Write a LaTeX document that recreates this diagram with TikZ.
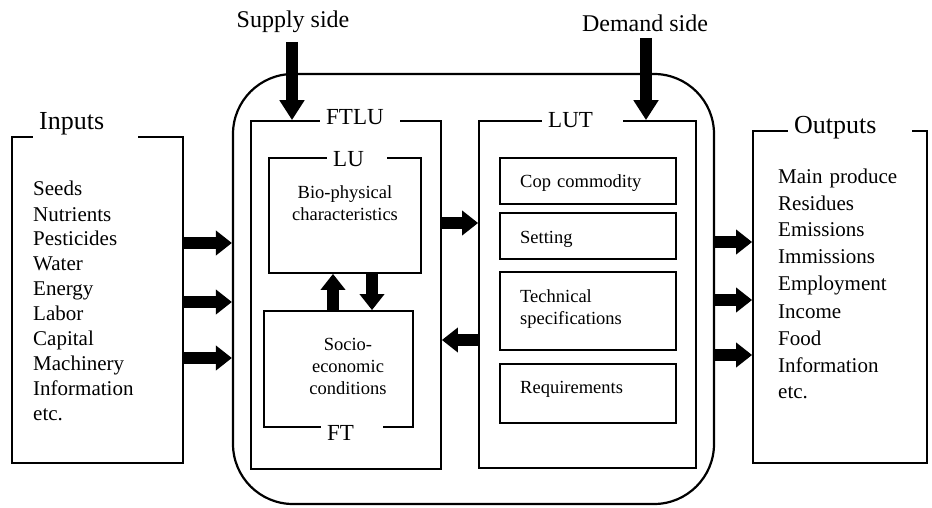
\documentclass[tikz,border=0pt]{standalone}
\usepackage{fontspec}
\setmainfont{Liberation Serif}
\usetikzlibrary{arrows.meta}

\tikzset{
    box/.style={draw, line width=1.8pt, inner sep=0pt},
    subbox/.style={draw, line width=1.6pt, minimum width=176pt, inner sep=0pt},
    title/.style={fill=white, inner xsep=6pt, inner ysep=2pt, align=left, anchor=base west},
    fat/.style={line width=12pt, -{Triangle[width=24pt,length=16pt]}},
    listtext/.style={align=left, anchor=base west, inner sep=0pt, text width=150pt},
    boxtext/.style={align=center, anchor=base, inner sep=0pt, text width=145pt,
        font=\fontsize{18.5}{22}\selectfont},
    subtext/.style={align=left, anchor=base west, inner sep=0pt, text width=150pt,
        font=\fontsize{18.5}{22}\selectfont},
}

\begin{document}
\begin{tikzpicture}[x=1pt, y=-1pt]
    \useasboundingbox (0,0) rectangle (932,508);

    % the whole system
    \node[box, line width=2.2pt, rounded corners=60pt, minimum width=481pt, minimum height=430pt] (outer) at (473.5,289) {};

    % inputs and outputs
    \node[box, minimum width=171pt, minimum height=326pt] (inputs) at (97.5,300) {};
    \node[title, text width=93pt, font=\fontsize{26}{30}\selectfont] (intitle) at (33,130) {Inputs};
    \node[listtext, font=\fontsize{21}{25}\selectfont] (inlist) at (33,196) {Seeds\\Nutrients\\Pesticides\\Water\\Energy\\Labor\\Capital\\Machinery\\Information\\etc.};

    \node[box, minimum width=174pt, minimum height=332pt] (outputs) at (840,297) {};
    \node[title, text width=112pt, font=\fontsize{26}{30}\selectfont] (outtitle) at (788,134) {Outputs};
    \node[listtext, font=\fontsize{21}{27}\selectfont] (outlist) at (778,183) {Main produce\\Residues\\Emissions\\Immissions\\Employment\\Income\\Food\\Information\\etc.};

    % FTLU side
    \node[box, minimum width=190pt, minimum height=348pt] (ftlu) at (346,295) {};
    \node[title, text width=68pt, font=\fontsize{23}{26}\selectfont] (ftlutitle) at (320,125) {FTLU};
    \node[box, minimum width=152pt, minimum height=115pt] (lu) at (345,215.5) {};
    \node[title, text width=48pt, font=\fontsize{23}{26}\selectfont] (lutitle) at (327,167) {LU};
    \node[boxtext] (lutext) at (345,198) {Bio-physical\\characteristics};
    \node[box, minimum width=149pt, minimum height=116pt] (ft) at (338.5,369) {};
    \node[title, text width=50pt, font=\fontsize{23}{26}\selectfont] (fttitle) at (321,440) {FT};
    \node[boxtext] (fttext) at (348,350) {Socio-\\economic\\conditions};

    % LUT side
    \node[box, minimum width=217pt, minimum height=347pt] (lut) at (587.5,294.5) {};
    \node[title, text width=69pt, font=\fontsize{23}{26}\selectfont] (luttitle) at (542,128) {LUT};
    \node[subbox, minimum height=46pt] (cop) at (588,181) {};
    \node[subtext] (coptext) at (520,188) {Cop commodity};
    \node[subbox, minimum height=46pt] (setting) at (588,236) {};
    \node[subtext] (settext) at (520,243) {Setting};
    \node[subbox, minimum height=78pt] (tech) at (588,311) {};
    \node[subtext] (techtext) at (520,302) {Technical\\specifications};
    \node[subbox, minimum height=59pt] (req) at (588,393.5) {};
    \node[subtext] (reqtext) at (520,393) {Requirements};

    % sides
    \node[anchor=base, inner sep=0pt, font=\fontsize{24}{28}\selectfont] (supply) at (293,28) {Supply side};
    \node[anchor=base, inner sep=0pt, font=\fontsize{24}{28}\selectfont] (demand) at (645,32) {Demand side};
    \coordinate (suptop) at (292,42);
    \coordinate (demtop) at (646,38);
    \draw[fat, -{Triangle[width=24pt,length=20pt]}] (suptop) -- (suptop |- ftlu.north);
    \draw[fat, -{Triangle[width=24pt,length=20pt]}] (demtop) -- (demtop |- lut.north);

    % flows
    \foreach \y in {243,302,358} {
        \coordinate (iny) at (0,\y);
        \draw[fat] (inputs.east |- iny) -- (outer.west |- iny);
    }
    \foreach \y in {242,300,355} {
        \coordinate (outy) at (0,\y);
        \draw[fat] (outer.east |- outy) -- (outputs.west |- outy);
    }
    \coordinate (upx) at (333,0);
    \coordinate (downx) at (372,0);
    \draw[fat] (ft.north -| upx) -- (lu.south -| upx);
    \draw[fat] (lu.south -| downx) -- (ft.north -| downx);
    \coordinate (toluty) at (0,223);
    \coordinate (fromluty) at (0,340);
    \draw[fat] (ftlu.east |- toluty) -- (lut.west |- toluty);
    \draw[fat] (lut.west |- fromluty) -- (ftlu.east |- fromluty);
\end{tikzpicture}
\end{document}
